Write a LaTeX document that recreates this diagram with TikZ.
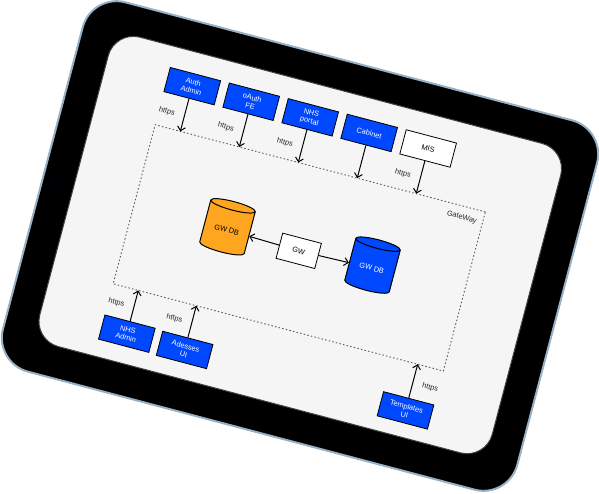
\documentclass[tikz,border=0pt]{standalone}
\usepackage{fontspec}
\setmainfont{Liberation Sans}
\usetikzlibrary{shapes.geometric,arrows.meta}
\definecolor{svcblue}{RGB}{0,72,255}
\definecolor{dborange}{RGB}{255,166,32}
\definecolor{screengray}{RGB}{245,245,245}
\definecolor{rimblue}{RGB}{150,176,198}

\begin{document}
\begin{tikzpicture}[x=1pt,y=1pt,
	font=\fontsize{7.4}{8.4}\selectfont,
	svc/.style={draw=black,line width=0.8pt,fill=svcblue,text=white,minimum width=52,minimum height=25,inner sep=1pt,align=center},
	plainsvc/.style={svc,fill=white,text=black},
	db/.style={cylinder,shape border rotate=90,aspect=0.32,draw=black,line width=1pt,minimum width=46,minimum height=52,inner sep=1pt},
	link/.style={-{Straight Barb[length=4pt,width=8pt]},line width=1pt},
	proto/.style={text=black!85}]
	\useasboundingbox (0,0) rectangle (599,-494);
	\begin{scope}[shift={(300,-246)},rotate=-14.8,transform shape]
	\draw[rimblue,line width=2pt,fill=black,rounded corners=35] (-266,-191) rectangle (266,191);
	\draw[black!75,line width=1pt,fill=screengray,rounded corners=26] (-234,-159) rectangle (234,161);
	\fill[blue!40!black] (-256,0) circle (1);
	% gateway frame
	\node[draw=black!65,dash pattern=on 1.5pt off 2.2pt,line width=0.9pt,minimum width=341.5,minimum height=164.5] (gate) at (-0.25,-2) {};
	\node[anchor=north east,proto] (gatelbl) at ([xshift=-3,yshift=-5]gate.north east) {GateWay};
	% clients on top
	\node[svc] (auth) at (-145,127) {Auth\\Admin};
	\node[svc] (oauth) at (-84,127) {oAuth\\FE};
	\node[svc] (portal) at (-23,127) {NHS\\portal};
	\node[svc] (cabinet) at (38,127) {Cabinet};
	\node[plainsvc] (mis) at (99,127) {MIS};
	\coordinate (auth-in) at (-145,80.25);
	\coordinate (oauth-in) at (-84,80.25);
	\coordinate (portal-in) at (-23,80.25);
	\coordinate (cabinet-in) at (38,80.25);
	\coordinate (mis-in) at (99,80.25);
	\foreach \n in {auth,oauth,portal,cabinet,mis}
		\draw[link] (\n) -- (\n-in);
	\node[proto] (h1) at (-163,96) {https};
	\node[proto] (h2) at (-102,96) {https};
	\node[proto] (h3) at (-41,96) {https};
	\node[proto] (h5) at (81,96) {https};
	% core
	\node[db,fill=dborange] (dbleft) at (-75,-3) {GW DB};
	\node[plainsvc,minimum width=40,minimum height=26] (gw) at (0,-5) {GW};
	\node[db,fill=svcblue,text=white] (dbright) at (75,-3) {GW DB};
	\draw[link] (gw) -- (dbleft);
	\draw[link] (gw) -- (dbright);
	% clients below
	\node[svc] (nhsadmin) at (-145,-129) {NHS\\Admin};
	\node[svc] (adesses) at (-85,-130) {Adesses\\UI};
	\node[svc] (templates) at (144,-132) {Templates\\UI};
	\coordinate (nhsadmin-in) at (-145,-84.25);
	\coordinate (adesses-in) at (-85,-84.25);
	\coordinate (templates-in) at (144,-84.25);
	\foreach \n in {nhsadmin,adesses,templates}
		\draw[link] (\n) -- (\n-in);
	\node[proto] (h6) at (-163,-102) {https};
	\node[proto] (h7) at (-103,-102) {https};
	\node[proto] (h8) at (162,-104) {https};
	\end{scope}
\end{tikzpicture}
\end{document}
